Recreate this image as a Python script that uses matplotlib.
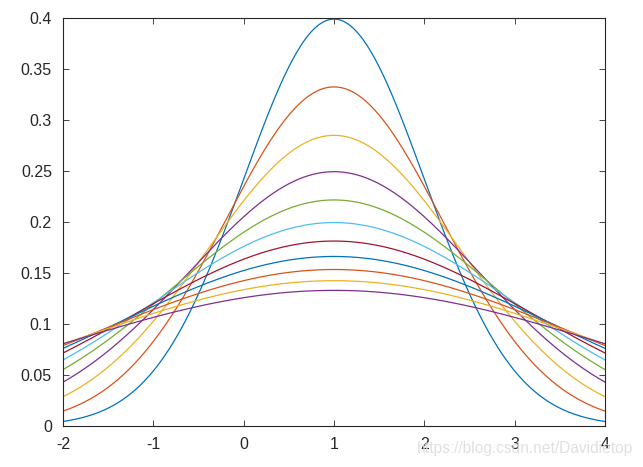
import numpy as np
import matplotlib.pyplot as plt

plt.rcParams['font.family'] = ['Liberation Sans', 'DejaVu Sans']
plt.rcParams['axes.unicode_minus'] = False

# normal pdfs, mean and spreads read from the peak heights
mu = 1.0
sigmas = [1.0, 1.2, 1.4, 1.6, 1.8, 2.0, 2.2, 2.4, 2.6, 2.8, 3.0]
x_range = (-2, 4)
xticks = [-2, -1, 0, 1, 2, 3, 4]
yticks = [0, 0.05, 0.1, 0.15, 0.2, 0.25, 0.3, 0.35, 0.4]
ytick_labels = ['0', '0.05', '0.1', '0.15', '0.2', '0.25', '0.3', '0.35', '0.4']

colors = ['#0072BD', '#D95319', '#EDB120', '#7E2F8E', '#77AC30', '#4DBEEE', '#A2142F']

fig = plt.figure(figsize=(6.43, 4.67), dpi=100)
ax = fig.add_axes([63 / 643, 1 - 426 / 467, (605 - 63) / 643, (426 - 18) / 467])

x = np.linspace(x_range[0], x_range[1], 400)
for i, s in enumerate(sigmas):
    y = np.exp(-(x - mu) ** 2 / (2 * s ** 2)) / (s * np.sqrt(2 * np.pi))
    ax.plot(x, y, color=colors[i % len(colors)], lw=0.9)

ax.set_xlim(*x_range)
ax.set_ylim(0, 0.4)
ax.set_xticks(xticks)
ax.set_yticks(yticks)
ax.set_yticklabels(ytick_labels)
ax.tick_params(direction='in', top=True, right=True, length=4, width=0.6,
               labelsize=11.5, pad=8, colors='#262626')
for sp in ax.spines.values():
    sp.set_linewidth(0.8)
    sp.set_color('#262626')

# csdn watermark, sits over the last x tick labels like in the original
fig.text(0.985, 0.04, 'https://blog.csdn.net/Davidietop', ha='right', va='center',
         fontsize=11.2, color='#dddddd', alpha=0.9)

fig.savefig('out.png', dpi=100)
